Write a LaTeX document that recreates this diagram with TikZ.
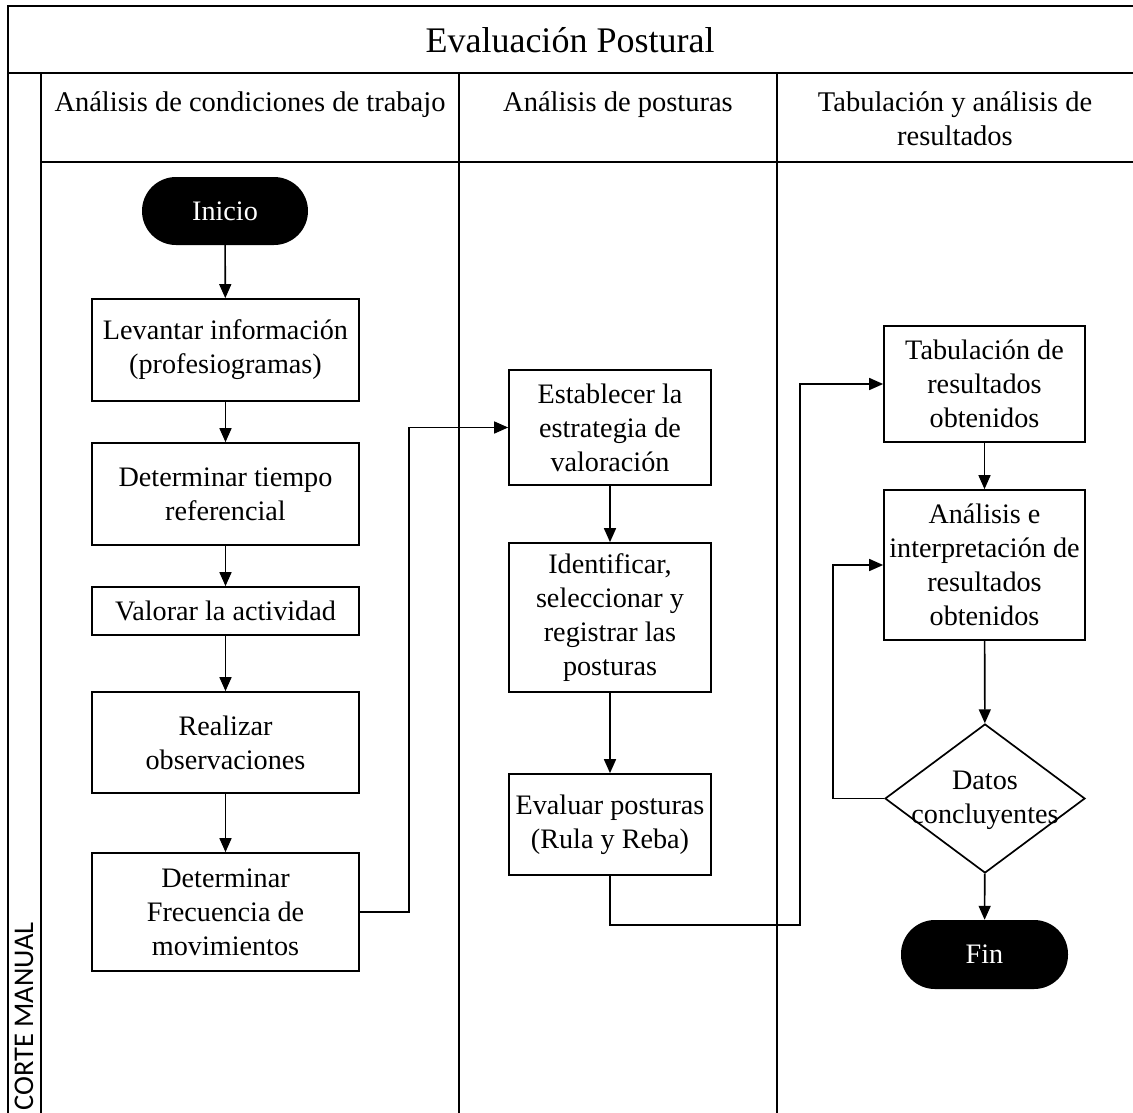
\documentclass[tikz,border=0pt]{standalone}
\usepackage{fontspec}
\setmainfont{Liberation Serif}
\newfontfamily\lanefont{Carlito}
\usetikzlibrary{arrows.meta, positioning, shapes.geometric}

\begin{document}
\begin{tikzpicture}[x=1pt, y=-1pt,
    box/.style={draw, line width=1.7pt, align=center, inner sep=0pt, minimum width=267pt, font=\fontsize{28.2}{34}\selectfont},
    midbox/.style={box, minimum width=202pt},
    term/.style={fill=black, text=white, rounded corners=34pt, inner sep=0pt, minimum width=166pt, minimum height=68pt, font=\fontsize{28.2}{34}\selectfont},
    decide/.style={draw, diamond, line width=1.7pt, inner sep=0pt, minimum width=200pt, minimum height=149pt},
    flow/.style={line width=1.6pt, -{Triangle[length=14pt, width=12pt]}},
    lane/.style={line width=2pt},
    hdr/.style={anchor=base, align=center, font=\fontsize{28.5}{34}\selectfont}]
  \useasboundingbox (0,0) rectangle (1133,1112);
  \clip (0,0) rectangle (1133,1112);
  % Frame
  \draw[lane] (8,1120) -- (8,6) -- (1140,6);
  \draw[lane] (8,73) -- (1140,73);
  \draw[lane] (41,162) -- (1140,162);
  \draw[lane] (41,73) -- (41,1120);
  \draw[lane] (459,73) -- (459,1120);
  \draw[lane] (777,73) -- (777,1120);
  % Titles
  \node[anchor=base, font=\fontsize{36}{43}\selectfont] (titulo) at (570,52) {Evaluación Postural};
  \node[hdr] (hdr1) at (250,111) {Análisis de condiciones de trabajo};
  \node[hdr] (hdr2) at (618,111) {Análisis de posturas};
  \node[hdr] (hdr3) at (955,145) {Tabulación y análisis de\\resultados};
  \node[anchor=base west, rotate=90, inner sep=0pt, font=\lanefont\fontsize{28.5}{32}\selectfont] (carril) at (33,1111) {CORTE MANUAL};
  % Column 1
  \node[term] (inicio) at (225,211) {Inicio};
  \node[box, minimum height=102pt] (levantar) at (225.5,350) {Levantar información\\(profesiogramas)};
  \node[box, minimum height=102pt] (tiempo) at (225.5,494) {Determinar tiempo\\referencial};
  \node[box, minimum height=48pt] (valorar) at (225.5,611) {Valorar la actividad};
  \node[box, minimum height=101pt] (realizar) at (225.5,742.5) {Realizar\\observaciones};
  \node[box, minimum height=118pt] (frecuencia) at (225.5,912) {Determinar\\Frecuencia de\\movimientos};
  % Column 2
  \node[midbox, minimum height=115pt] (establecer) at (610,427.5) {Establecer la\\estrategia de\\valoración};
  \node[midbox, minimum height=149pt] (identificar) at (610,617.5) {Identificar,\\seleccionar y\\registrar las\\posturas};
  \node[midbox, minimum height=101pt] (evaluar) at (610,824.5) {Evaluar posturas\\(Rula y Reba)};
  % Column 3
  \node[midbox, minimum width=201pt, minimum height=116pt] (tabulacion) at (984.5,384) {Tabulación de\\resultados\\obtenidos};
  \node[midbox, minimum width=201pt, minimum height=150pt] (analisis) at (984.5,565) {Análisis e\\interpretación de\\resultados\\obtenidos};
  \node[decide] (datos) at (985,798.5) {};
  \node[align=center, inner sep=0pt, font=\fontsize{28.2}{34}\selectfont] (datostxt) at (985,800.5) {Datos\\concluyentes};
  \node[term, minimum width=167pt, minimum height=69pt] (fin) at (984.5,954.5) {Fin};
  % Connectors
  \coordinate (paso1) at (409,912);
  \coordinate (paso2) at (800,925);
  \draw[flow] (inicio) -- (levantar);
  \draw[flow] (levantar) -- (tiempo);
  \draw[flow] (tiempo) -- (valorar);
  \draw[flow] (valorar) -- (realizar);
  \draw[flow] (realizar) -- (frecuencia);
  \draw[flow] (frecuencia.east) -- (paso1) |- (establecer.west);
  \draw[flow] (establecer) -- (identificar);
  \draw[flow] (identificar) -- (evaluar);
  \draw[flow] (evaluar.south) |- (paso2) |- (tabulacion.west);
  \draw[flow] (tabulacion) -- (analisis);
  \draw[flow] (analisis) -- (datos);
  \draw[flow] (datos.west) -- ++(-51,0) |- (analisis.west);
  \draw[flow] (datos) -- (fin);
\end{tikzpicture}
\end{document}
